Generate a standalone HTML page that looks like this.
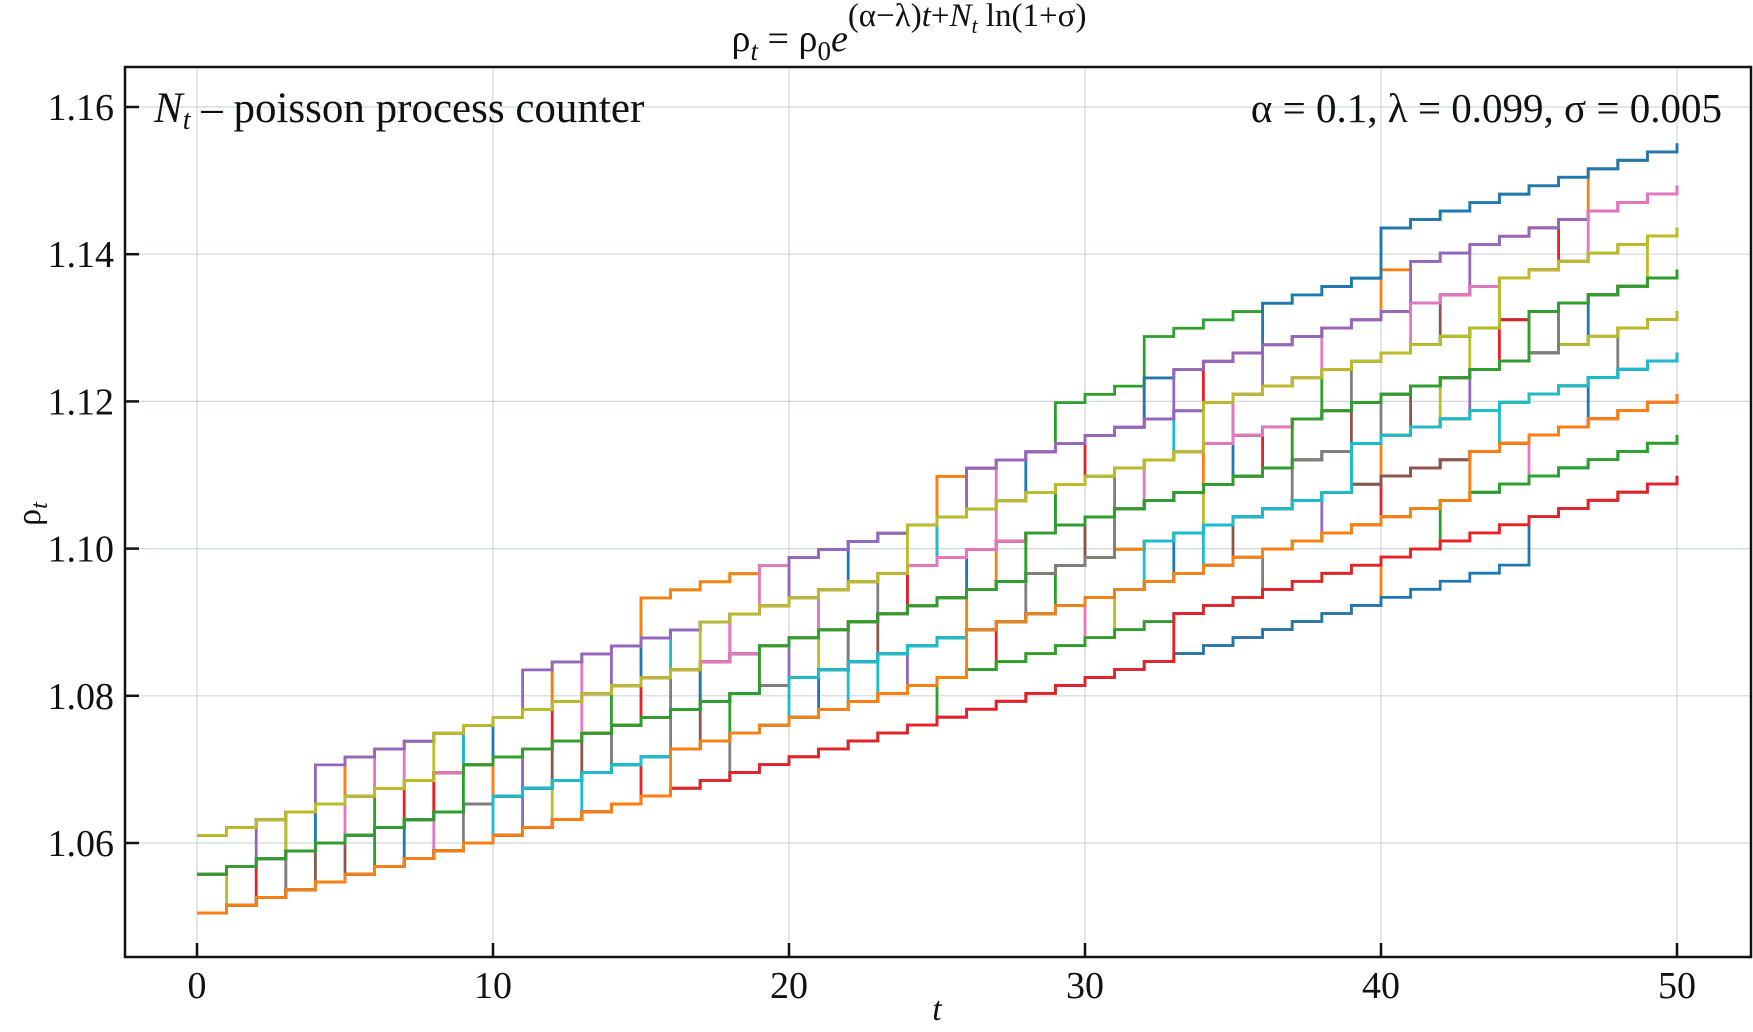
<!DOCTYPE html>
<html><head><meta charset="utf-8"><style>
html,body{margin:0;padding:0;background:#fff;}
svg{display:block;font-family:"Liberation Serif",serif;}
</style></head><body>
<svg id="chart" width="1753" height="1032" viewBox="0 0 1753 1032">
<g id="grid"></g>
<g id="series"></g>
<rect x="125" y="67" width="1626" height="890" fill="none" stroke="#111" stroke-width="2.5"/>
<g id="ticks"></g>
<text x="909" y="51" text-anchor="middle" font-size="38" fill="#111">ρ<tspan font-style="italic" font-size="27" dy="9">t</tspan><tspan dy="-9"> = ρ</tspan><tspan font-size="27" dy="9">0</tspan><tspan font-style="italic" dy="-9">e</tspan><tspan font-size="33" dy="-25">(α−λ)</tspan><tspan font-style="italic" font-size="33">t</tspan><tspan font-size="33">+</tspan><tspan font-style="italic" font-size="33">N</tspan><tspan font-style="italic" font-size="22" dy="7">t</tspan><tspan font-size="33" dy="-7"> ln(1+σ)</tspan></text>
<text x="154" y="122" font-size="43" fill="#111"><tspan font-style="italic">N</tspan><tspan font-style="italic" font-size="28" dy="7">t</tspan><tspan dy="-7"> – poisson process counter</tspan></text>
<text x="1722" y="122" text-anchor="end" font-size="41" fill="#111">α = 0.1, λ = 0.099, σ = 0.005</text>
<text transform="translate(40,514) rotate(-90)" text-anchor="middle" font-size="34" fill="#111">ρ<tspan font-style="italic" font-size="24" dy="7">t</tspan></text>
<text x="937" y="1020" text-anchor="middle" font-size="34" font-style="italic" fill="#111">t</text>
</svg>
<script>
const xTicks=[0,10,20,30,40,50];
const yTicks=[1.06,1.08,1.10,1.12,1.14,1.16];
const yTickLabels=["1.06","1.08","1.10","1.12","1.14","1.16"];
const rho0=1.0505;
const growth=0.001;
const jumpFactor=1.005;
const seriesColors=["#2ca02c","#ff7f0e","#1f77b4","#e8202a","#9467bd","#8c564b","#e377c2","#7f7f7f","#bcbd22","#17becf"];
// each entry: starting jump count | jump times
const seriesData=[
"2|5,12,15,25,29,32,40",
"2|5,12,15,25,32,40,47",
"1|3,10,15,22,28,32,36,40",
"1|7,12,18,25,30,34,46",
"1|2,9,14,20,26,33,41",
"0|4,12,17,24,29,35,42",
"2|6,13,19,27,38",
"1|8,16,23,31,39,44",
"0|1,11,21,28,37,43,49",
"2|9,16,25,33",
"1|6,14,21,29,38",
"0|3,10,19,27,34,45",
"1|4,17,26,35,47",
"0|2,8,15,24,36,44",
"1|11,20,31,43",
"0|5,13,22,30,41",
"2|7,18,32,46",
"0|9,16,28,37,48",
"1|3,19,34,42",
"0|13,23,34,44",
"0|6,18,29,39",
"1|10,26,40",
"0|7,21,33,47",
"0|15,27,40",
"0|11,24,38",
"1|17,35",
"0|8,30,45",
"0|18,36",
"0|12,31",
"1|22",
"0|25,42",
"0|40",
"0|45",
"0|33",
"2|4,11,20,26,36,43",
"1|14,23,30,39,46",
"1|5,13,21,27,35,41,47",
"0|3,14,22,31,40,46",
"2|8,17,24,34,44",
"0|10,20,32,39",
"1|9,19,28,37,45",
"0|16,26,43"
];

const X0=197,X1=1677,Y0=843,Y1=107;
function xs(t){return X0+(t-0)*(X1-X0)/50;}
function ys(v){return Y0+(v-1.06)*(Y1-Y0)/0.10;}
const NS="http://www.w3.org/2000/svg";
function mk(tag,attrs,parent){const e=document.createElementNS(NS,tag);for(const k in attrs)e.setAttribute(k,attrs[k]);parent.appendChild(e);return e;}
const grid=document.getElementById('grid'),ticks=document.getElementById('ticks'),ser=document.getElementById('series');
xTicks.forEach((t,i)=>{
  const g=mk('line',{x1:xs(t),x2:xs(t),y1:67,y2:957,stroke:'#cfd9dd','stroke-width':1.2},grid);
  
  
  const tk=mk('line',{x1:xs(t),x2:xs(t),y1:957,y2:943,stroke:'#111','stroke-width':2.5},ticks);
  
  
  const lb=mk('text',{x:xs(t),y:998,'text-anchor':'middle','font-size':38,fill:'#111'},ticks);
  lb.textContent=String(t);
  
  
});
yTicks.forEach((v,i)=>{
  const g=mk('line',{x1:125,x2:1751,y1:ys(v),y2:ys(v),stroke:'#cfd9dd','stroke-width':1.2},grid);
  
  
  const tk=mk('line',{x1:125,x2:139,y1:ys(v),y2:ys(v),stroke:'#111','stroke-width':2.5},ticks);
  
  
  const lb=mk('text',{x:114,y:ys(v)+13,'text-anchor':'end','font-size':38,fill:'#111'},ticks);
  lb.textContent=yTickLabels[i];
  
  
});
seriesData.forEach((s,si)=>{
  const parts=s.split('|');
  let k=parseInt(parts[0]);
  const jl=parts[1].split(',').map(Number);
  const vals=[];
  for(let t=0;t<=50;t++){ if(jl.includes(t))k++; vals.push(rho0*Math.exp(growth*t)*Math.pow(jumpFactor,k)); }
  let d='M'+xs(0)+','+ys(vals[0]);
  for(let t=1;t<=50;t++){ d+=' H'+xs(t)+' V'+ys(vals[t]); }
  const p=mk('path',{d:d,fill:'none',stroke:seriesColors[si%seriesColors.length],'stroke-width':2.8},ser);
  
  
});
</script>
</body></html>
